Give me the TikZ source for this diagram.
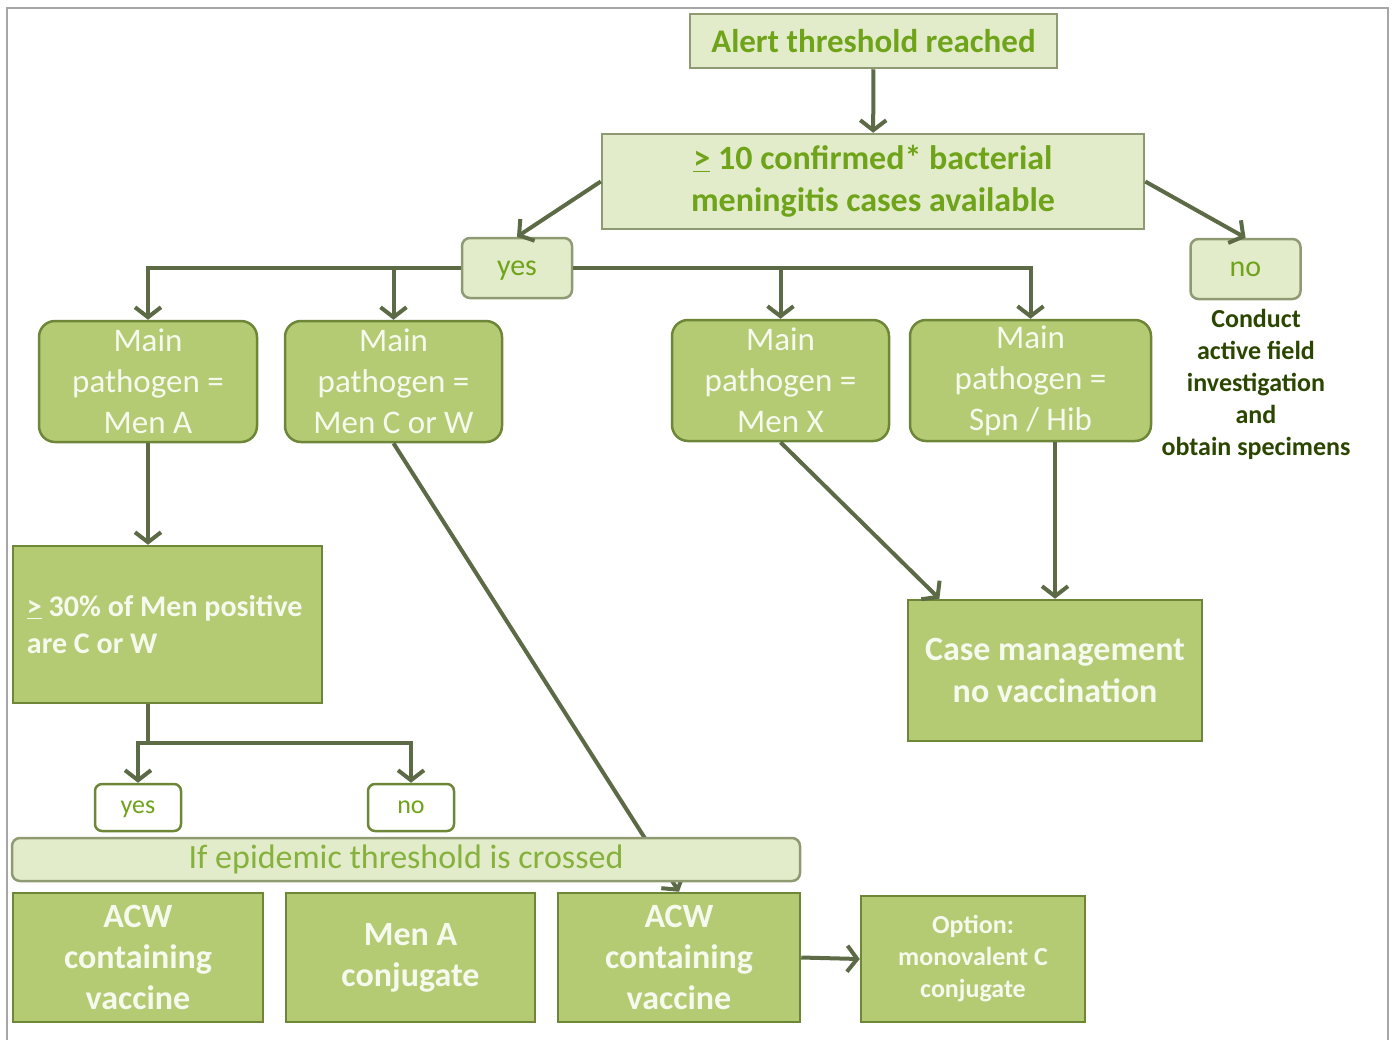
\documentclass[tikz,border=0pt]{standalone}
\usepackage{fontspec}
\setmainfont{Carlito}
\usepackage{tikz}
\usetikzlibrary{arrows.meta, positioning, calc}
\usepackage{xcolor}
\definecolor{palefill}{HTML}{E3ECCA}
\definecolor{paleedge}{HTML}{8E9B72}
\definecolor{midfill}{HTML}{B4CB73}
\definecolor{midedge}{HTML}{6E8638}
\definecolor{linkcol}{HTML}{5C6A46}
\definecolor{greentext}{HTML}{6FA31A}
\definecolor{darktext}{HTML}{2B4600}
\definecolor{softwhite}{HTML}{F6F9EE}

\begin{document}
\begin{tikzpicture}[x=1pt, y=-1pt,
  palebox/.style={draw=paleedge, fill=palefill, line width=2.5pt, inner sep=0pt, align=center, text=greentext},
  midbox/.style={draw=midedge, fill=midfill, line width=2.5pt, inner sep=0pt, align=center, text=softwhite},
  answer/.style={palebox, rounded corners=8pt, minimum width=110pt, minimum height=60pt, text depth=0pt, font=\fontsize{30}{36}\selectfont},
  smallanswer/.style={draw=midedge, fill=white, line width=2.5pt, rounded corners=7pt, inner sep=0pt, text=greentext, text depth=0pt, minimum width=86pt, minimum height=47pt, font=\fontsize{26}{30}\selectfont},
  pathbox/.style={midbox, rounded corners=16pt, minimum height=121pt, font=\fontsize{33}{41}\selectfont},
  vaccbox/.style={midbox, minimum height=129pt, font=\bfseries\fontsize{34}{41}\selectfont},
  link/.style={draw=linkcol, line width=4pt},
  arrow/.style={link, -{Straight Barb[length=10pt, width=26pt]}}]
  \useasboundingbox (0,0) rectangle (1392,1039);
  \draw[gray!70, line width=2pt] (7,8) rectangle (1388,1050);

  % Decisions
  \node[palebox, minimum width=367pt, minimum height=54pt, font=\bfseries\fontsize{33}{40}\selectfont] (alert) at (873.5,41) {Alert threshold reached};
  \node[palebox, minimum width=542pt, minimum height=95pt, font=\bfseries\fontsize{34}{42}\selectfont] (cases) at (873,181.5) {\underline{>} 10 confirmed* bacterial\\meningitis cases available};
  \node[answer] (yes) at (517,268) {yes};
  \node[answer] (no) at (1245.5,269) {no};
  \node[text=darktext, align=center, font=\bfseries\fontsize{26}{32}\selectfont] (conduct) at (1256,384) {Conduct\\active field\\investigation\\and\\obtain specimens};

  % Pathogens
  \node[pathbox, minimum width=218pt] (mena) at (148,381.5) {Main\\pathogen =\\Men A};
  \node[pathbox, minimum width=217pt] (mencw) at (393.5,381.5) {Main\\pathogen =\\Men C or W};
  \node[pathbox, minimum width=217pt] (menx) at (780.5,380.5) {Main\\pathogen =\\Men X};
  \node[pathbox, minimum width=241pt] (spnhib) at (1030.5,380.5) {Main\\pathogen =\\Spn / Hib};

  \node[midbox, minimum width=309pt, minimum height=157pt, text width=281pt, align=flush left, font=\bfseries\fontsize{30}{37}\selectfont] (share) at (167.5,624.5) {\underline{>} 30\% of Men positive\\are C or W};
  \node[smallanswer] (yessub) at (138,807.5) {yes};
  \node[smallanswer] (nosub) at (411,807.5) {no};
  \node[midbox, minimum width=294pt, minimum height=141pt, font=\bfseries\fontsize{34}{42}\selectfont] (casemgmt) at (1055,670.5) {Case management\\no vaccination};

  % Vaccines
  \node[vaccbox, minimum width=250pt] (acwleft) at (138,957.5) {ACW\\containing\\vaccine};
  \node[vaccbox, minimum width=249pt] (menaconj) at (410.5,957.5) {Men A\\conjugate};
  \node[vaccbox, minimum width=242pt] (acwright) at (679,957.5) {ACW\\containing\\vaccine};
  \node[midbox, minimum width=224pt, minimum height=126pt, font=\bfseries\fontsize{26}{32}\selectfont] (option) at (973,959) {Option:\\monovalent C\\conjugate};

  % Links
  \draw[arrow] (alert) -- (cases);
  \draw[arrow] (cases.west) -- (yes.north);
  \draw[arrow] (cases.east) -- (no.north);
  \draw[arrow] (yes.west) -| (mena.north);
  \draw[arrow] (yes.west -| mencw.north) -- (mencw.north);
  \draw[arrow] (yes.east) -| (spnhib.north);
  \draw[arrow] (yes.east -| menx.north) -- (menx.north);
  \draw[arrow] (mena.south) -- (mena.south |- share.north);
  \coordinate (fork) at (148,743);
  \draw[link] (fork |- share.south) -- (fork);
  \draw[arrow] (fork) -| (yessub.north);
  \draw[arrow] (fork) -| (nosub.north);
  \draw[arrow] (menx.south) -- ($(casemgmt.north west)!0.11!(casemgmt.north east)$);
  \draw[arrow] (spnhib.south -| casemgmt.north) -- (casemgmt.north);
  \draw[arrow] (acwright.east) -- (option.west);
  \draw[arrow] (mencw.south) -- (acwright.north);

  % Bar over the long link
  \node[palebox, rounded corners=8pt, minimum width=788pt, minimum height=43pt, font=\fontsize{34}{40}\selectfont, text=greentext!85!white] (epidemic) at (406,859.5) {If epidemic threshold is crossed};
\end{tikzpicture}
\end{document}
